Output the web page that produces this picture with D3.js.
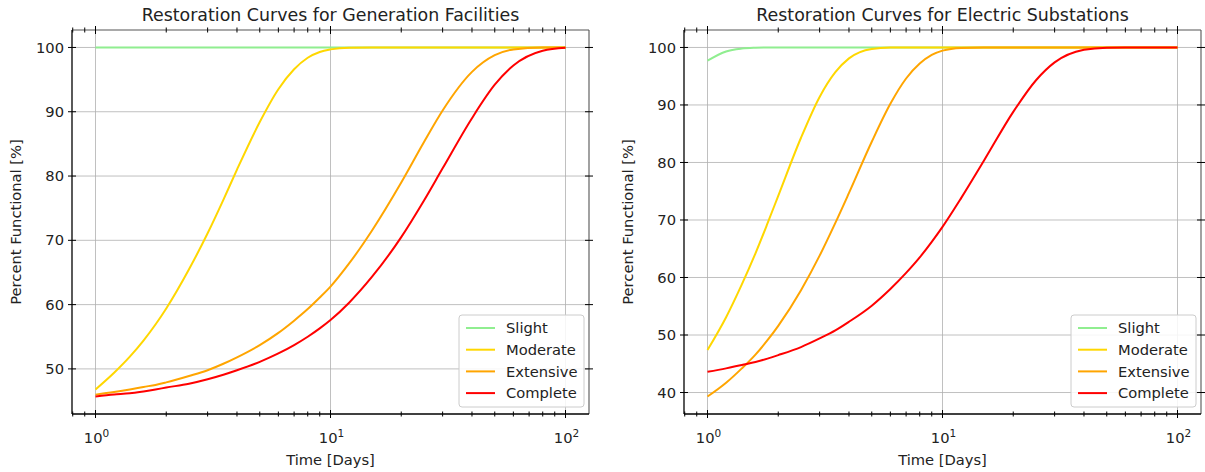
<!DOCTYPE html>
<html><head><meta charset="utf-8">
<script src="https://cdn.jsdelivr.net/npm/d3@7"></script>
<style>
body{margin:0;background:#fff;}
svg{display:block;font-family:"DejaVu Sans",sans-serif;}
</style>
</head><body>
<svg id="chart" width="1205" height="472"></svg>
<script>
// ---- data ----
const days = [1, 1.2, 1.4, 1.6, 1.8, 2, 2.5, 3, 3.5, 4, 5, 6, 7, 8, 9, 10, 12, 15, 20, 25, 30, 40, 50, 60, 80, 100];
const severities = ["Slight", "Moderate", "Extensive", "Complete"];
const severityColors = ["#90ee90", "#ffd700", "#ffa500", "#ff0000"];

const genSlight    = [100,100,100,100,100,100,100,100,100,100,100,100,100,100,100,100,100,100,100,100,100,100,100,100,100,100];
const genModerate  = [46.8,49.4,51.9,54.4,56.9,59.4,65.5,71.1,76.3,81.0,88.4,93.5,96.6,98.4,99.3,99.7,99.97,100,100,100,100,100,100,100,100,100];
const genExtensive = [46.0,46.4,46.8,47.2,47.5,47.9,48.9,49.8,50.8,51.8,53.7,55.6,57.5,59.3,61.1,62.8,66.4,71.5,79.0,85.3,90.2,96.2,98.8,99.7,99.99,100];
const genComplete  = [45.7,46.0,46.2,46.5,46.8,47.1,47.7,48.4,49.1,49.8,51.1,52.4,53.7,55.0,56.3,57.6,60.3,64.3,70.5,76.2,81.2,89.0,94.2,97.2,99.5,99.95];

const subSlight    = [97.7,99.3,99.8,99.95,100,100,100,100,100,100,100,100,100,100,100,100,100,100,100,100,100,100,100,100,100,100];
const subModerate  = [47.4,53.1,58.8,64.2,69.4,74.2,84.3,91.4,95.7,98.1,99.74,99.98,100,100,100,100,100,100,100,100,100,100,100,100,100,100];
const subExtensive = [39.3,41.7,44.2,46.6,49.1,51.6,57.8,63.8,69.5,74.7,83.6,90.2,94.6,97.2,98.7,99.45,99.92,100,100,100,100,100,100,100,100,100];
const subComplete  = [43.6,44.2,44.8,45.3,45.9,46.5,47.9,49.4,50.8,52.3,55.1,58.0,60.8,63.5,66.2,68.8,73.8,80.3,88.8,94.3,97.4,99.6,99.97,100,100,100];

const xMajorTicks = [1, 10, 100];
const xTickExponents = ["0", "1", "2"];
const genYTicks = [50, 60, 70, 80, 90, 100];
const subYTicks = [40, 50, 60, 70, 80, 90, 100];

const titles = ["Restoration Curves for Generation Facilities", "Restoration Curves for Electric Substations"];
const xLabel = "Time [Days]";
const yLabel = "Percent Functional [%]";

// ---- drawing ----
const svg = d3.select("#chart");
const FS = 14.7;

function panel(box, title, seriesList, yTicks) {
  const g = svg.append("g");
  const x = d3.scaleLog().domain([Math.pow(10, -0.1), Math.pow(10, 2.1)]).range([box.x0, box.x1]);
  const all = seriesList.flat();
  const [mn, mx] = d3.extent(all);
  const pad = (mx - mn) * 0.05;
  const y = d3.scaleLinear().domain([mn - pad, mx + pad]).range([box.y1, box.y0]);

  // grid
  g.append("g").selectAll("line").data(xMajorTicks).join("line")
    .attr("x1", d => x(d)).attr("x2", d => x(d)).attr("y1", box.y0).attr("y2", box.y1)
    .attr("stroke", "#b0b0b0").attr("stroke-width", 0.8);
  g.append("g").selectAll("line").data(yTicks).join("line")
    .attr("x1", box.x0).attr("x2", box.x1).attr("y1", d => y(d)).attr("y2", d => y(d))
    .attr("stroke", "#b0b0b0").attr("stroke-width", 0.8);

  // lines
  const line = d3.line().x(d => x(d[0])).y(d => y(d[1])).curve(d3.curveMonotoneX);
  seriesList.forEach((vals, i) => {
    g.append("path").datum(days.map((t, j) => [t, vals[j]]))
      .attr("d", line).attr("fill", "none")
      .attr("stroke", severityColors[i]).attr("stroke-width", 2);
  });

  // spines
  g.append("line").attr("x1", box.x0).attr("x2", box.x1).attr("y1", box.y0).attr("y2", box.y0).attr("stroke", "#555").attr("stroke-width", 1.1);
  g.append("line").attr("x1", box.x1).attr("x2", box.x1).attr("y1", box.y0).attr("y2", box.y1).attr("stroke", "#555").attr("stroke-width", 1.1);
  g.append("line").attr("x1", box.x0).attr("x2", box.x1).attr("y1", box.y1).attr("y2", box.y1).attr("stroke", "#000").attr("stroke-width", 1.3);
  g.append("line").attr("x1", box.x0).attr("x2", box.x0).attr("y1", box.y0).attr("y2", box.y1).attr("stroke", "#000").attr("stroke-width", 1.3);

  // ticks (inout, all four sides)
  const [d0, d1] = x.domain();
  const allX = x.ticks().filter(t => t >= d0 && t <= d1);
  const tg = g.append("g").attr("stroke", "#000").attr("stroke-width", 1);
  allX.forEach(t => {
    const major = xMajorTicks.includes(t);
    const h = major ? 4 : 2.5;
    [box.y0, box.y1].forEach(yy => {
      tg.append("line").attr("x1", x(t)).attr("x2", x(t)).attr("y1", yy - h).attr("y2", yy + h);
    });
  });
  yTicks.forEach(v => {
    [box.x0, box.x1].forEach(xx => {
      tg.append("line").attr("x1", xx - 4).attr("x2", xx + 4).attr("y1", y(v)).attr("y2", y(v));
    });
  });

  // x tick labels
  xMajorTicks.forEach((t, i) => {
    const txt = g.append("text").attr("x", x(t) + 1).attr("y", box.y1 + 29)
      .attr("text-anchor", "middle").attr("font-size", FS).attr("fill", "#222");
    txt.append("tspan").text("10");
    txt.append("tspan").attr("dy", -6).attr("font-size", 10.5).text(xTickExponents[i]);
  });
  // y tick labels
  yTicks.forEach(v => {
    g.append("text").attr("x", box.x0 - 8).attr("y", y(v)).attr("dy", "0.35em")
      .attr("text-anchor", "end").attr("font-size", FS).attr("fill", "#222").text(v);
  });

  // title & axis labels
  const cx = (box.x0 + box.x1) / 2;
  g.append("text").attr("x", cx).attr("y", 21).attr("text-anchor", "middle")
    .attr("font-size", 17.4).attr("fill", "#222").text(title);
  g.append("text").attr("x", cx).attr("y", 465).attr("text-anchor", "middle")
    .attr("font-size", FS).attr("fill", "#222").text(xLabel);
  g.append("text").attr("transform", `translate(${box.x0 - 51},${(box.y0 + box.y1) / 2}) rotate(-90)`)
    .attr("text-anchor", "middle").attr("font-size", FS).attr("fill", "#222").text(yLabel);

  // legend
  const lw = 125, lh = 92;
  const lx = box.x1 - 5 - lw, ly = box.y1 - 7 - lh;
  const lg = g.append("g").attr("transform", `translate(${lx},${ly})`);
  lg.append("rect").attr("width", lw).attr("height", lh).attr("rx", 3)
    .attr("fill", "#fff").attr("fill-opacity", 0.85).attr("stroke", "#ccc").attr("stroke-width", 1);
  severities.forEach((s, i) => {
    const yy = 13 + i * 21.7;
    lg.append("line").attr("x1", 7).attr("x2", 36).attr("y1", yy).attr("y2", yy)
      .attr("stroke", severityColors[i]).attr("stroke-width", 2);
    lg.append("text").attr("x", 47).attr("y", yy).attr("dy", "0.35em")
      .attr("font-size", FS).attr("fill", "#222").text(s);
  });
}

panel({x0: 72, x1: 589, y0: 30, y1: 414}, titles[0], [genSlight, genModerate, genExtensive, genComplete], genYTicks);
panel({x0: 684, x1: 1201, y0: 30, y1: 414}, titles[1], [subSlight, subModerate, subExtensive, subComplete], subYTicks);
</script>
</body></html>
